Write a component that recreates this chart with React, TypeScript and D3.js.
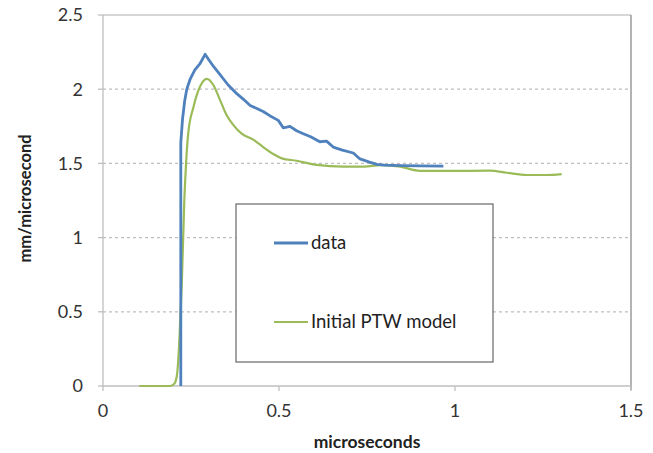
import React from "react";
import * as d3 from "d3";

const dataX = [0.221, 0.221, 0.226, 0.232, 0.238, 0.248, 0.261, 0.275, 0.29, 0.30, 0.315, 0.332, 0.355, 0.38, 0.40, 0.418, 0.437, 0.455, 0.475, 0.498, 0.512, 0.522, 0.531, 0.55, 0.569, 0.59, 0.616, 0.635, 0.654, 0.68, 0.711, 0.73, 0.755, 0.778, 0.80, 0.85, 0.90, 0.967];
const dataY = [0, 1.64, 1.8, 1.92, 2.0, 2.07, 2.13, 2.17, 2.235, 2.2, 2.15, 2.10, 2.03, 1.97, 1.93, 1.89, 1.87, 1.85, 1.82, 1.79, 1.74, 1.745, 1.75, 1.72, 1.70, 1.68, 1.646, 1.65, 1.61, 1.59, 1.57, 1.53, 1.51, 1.494, 1.488, 1.485, 1.483, 1.482];

const modelX = [0.103, 0.19, 0.2, 0.206, 0.211, 0.217, 0.224, 0.231, 0.236, 0.242, 0.257, 0.276, 0.295, 0.313, 0.332, 0.351, 0.37, 0.394, 0.427, 0.455, 0.484, 0.508, 0.55, 0.607, 0.683, 0.743, 0.787, 0.815, 0.844, 0.9, 0.976, 1.099, 1.147, 1.204, 1.26, 1.303];
const modelY = [0, 0, 0.01, 0.03, 0.09, 0.31, 0.7, 1.25, 1.5, 1.70, 1.88, 2.02, 2.07, 2.03, 1.93, 1.826, 1.76, 1.70, 1.66, 1.61, 1.563, 1.534, 1.518, 1.49, 1.478, 1.478, 1.489, 1.485, 1.478, 1.45, 1.449, 1.451, 1.437, 1.422, 1.422, 1.428];

const xTicks = [0, 0.5, 1, 1.5];
const yTicks = [0, 0.5, 1, 1.5, 2, 2.5];
const seriesNames = ["data", "Initial PTW model"];
const seriesColors = ["#4F81BD", "#9BBB59"];
const xTitle = "microseconds";
const yTitle = "mm/microsecond";

const W = 653, H = 453;
const L = 103, R = 631, T = 15, B = 386;
const FONT = "Lato, 'Liberation Sans', Arial, sans-serif";

export default function App() {
  const x = d3.scaleLinear().domain([0, 1.5]).range([L, R]);
  const y = d3.scaleLinear().domain([0, 2.5]).range([B, T]);
  const line = d3.line<[number, number]>().x(d => x(d[0])).y(d => y(d[1]));
  const smooth = d3.line<[number, number]>().x(d => x(d[0])).y(d => y(d[1])).curve(d3.curveMonotoneX);
  const dataPts: [number, number][] = dataX.map((v, i) => [v, dataY[i]]);
  const modelPts: [number, number][] = modelX.map((v, i) => [v, modelY[i]]);

  return (
    <svg width={W} height={H} style={{ position: "absolute", left: 0, top: 0, background: "#fff" }} fontFamily={FONT}>
      <rect x={0} y={0} width={W} height={H} fill="#fff" />
      {yTicks.filter(t => t > 0 && t < 2.5).map(t => (
        <line key={"g" + t} x1={L} x2={R} y1={y(t)} y2={y(t)} stroke="#bfbfbf" strokeWidth={1.3} strokeDasharray="3,3" />
      ))}
      <line x1={L} x2={R} y1={y(2.5)} y2={y(2.5)} stroke="#c8c8c8" strokeWidth={1.3} />
      <line x1={R} x2={R} y1={T} y2={B + 4} stroke="#8a8a8a" strokeWidth={1.3} />
      <line x1={L} x2={L} y1={T} y2={B} stroke="#bfbfbf" strokeWidth={1.3} />
      <line x1={L} x2={R} y1={B} y2={B} stroke="#bfbfbf" strokeWidth={1.3} />
      {yTicks.map(t => (
        <g key={"y" + t}>
          <line x1={L - 5} x2={L} y1={y(t)} y2={y(t)} stroke="#bfbfbf" strokeWidth={1.3} />
          <text x={83} y={y(t)} dy="0.35em" textAnchor="end" fontSize={18} fill="#333">{t}</text>
        </g>
      ))}
      {xTicks.map(t => (
        <g key={"x" + t}>
          <line x1={x(t)} x2={x(t)} y1={B} y2={B + 5} stroke="#bfbfbf" strokeWidth={1.3} />
          <text x={x(t)} y={411} dy="0.35em" textAnchor="middle" fontSize={18} fill="#333">{t}</text>
        </g>
      ))}
      <path d={smooth(modelPts) || ""} fill="none" stroke={seriesColors[1]} strokeWidth={2.2} strokeLinejoin="round" />
      <path d={line(dataPts) || ""} fill="none" stroke={seriesColors[0]} strokeWidth={2.8} strokeLinejoin="round" />
      <text x={(L + R) / 2} y={442} dy="0.35em" textAnchor="middle" fontSize={17.5} fontWeight="bold" fill="#222">{xTitle}</text>
      <text transform={`translate(25,${(T + B) / 2 - 2}) rotate(-90)`} dy="0.35em" textAnchor="middle" fontSize={16.5} fontWeight="bold" fill="#222">{yTitle}</text>
      <rect x={236} y={204} width={257} height={158} fill="#fff" stroke="#666" strokeWidth={1.2} />
      {seriesNames.map((n, i) => {
        const ly = i === 0 ? 243 : 322;
        return (
          <g key={n}>
            <line x1={274} x2={308} y1={ly} y2={ly} stroke={seriesColors[i]} strokeWidth={i === 0 ? 2.8 : 2.2} />
            <text x={311} y={ly} dy="0.35em" fontSize={18.5} fill="#222">{n}</text>
          </g>
        );
      })}
    </svg>
  );
}
